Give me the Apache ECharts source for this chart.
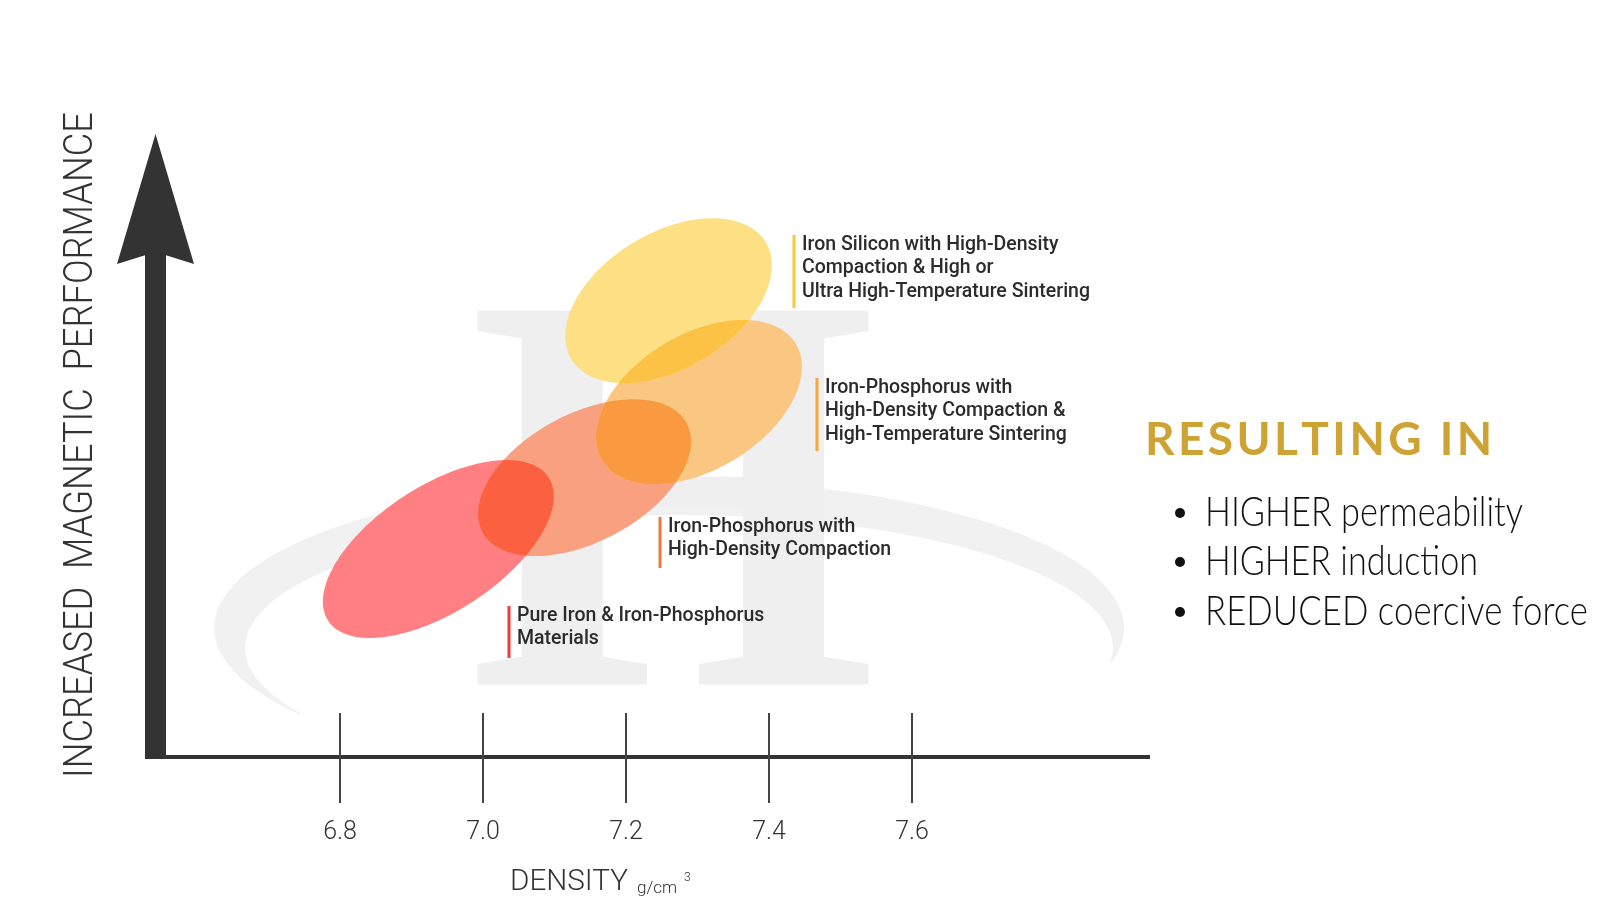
<!DOCTYPE html>
<html>
<head>
<meta charset="utf-8">
<title>Density vs magnetic performance</title>
<script src="https://cdn.jsdelivr.net/npm/echarts/dist/echarts.min.js"></script>
<style>
  html, body { margin: 0; padding: 0; background: #fff; }
  #chart { width: 1600px; height: 900px; }
</style>
</head>
<body>
<div id="chart"></div>
<script>
// material groups, ordered from lowest to highest performance
const groups = [
  'Pure Iron & Iron-Phosphorus Materials',
  'Iron-Phosphorus with High-Density Compaction',
  'Iron-Phosphorus with High-Density Compaction & High-Temperature Sintering',
  'Iron Silicon with High-Density Compaction & High or Ultra High-Temperature Sintering'
];
// density range (g/cm3) covered by each group
const densityMin = [6.776, 6.993, 7.158, 7.115];
const densityMax = [7.099, 7.291, 7.446, 7.404];
// relative magnetic performance range (arbitrary units)
const perfMin = [1.92, 3.24, 4.40, 6.03];
const perfMax = [4.79, 5.77, 7.05, 8.69];
// tilt of each region, degrees
const tilt = [33, 28, 31, 31];
const densityTicks = [6.8, 7.0, 7.2, 7.4, 7.6];

const labelLines = [
  ['Pure Iron & Iron-Phosphorus', 'Materials'],
  ['Iron-Phosphorus with', 'High-Density Compaction'],
  ['Iron-Phosphorus with', 'High-Density Compaction &', 'High-Temperature Sintering'],
  ['Iron Silicon with High-Density', 'Compaction & High or', 'Ultra High-Temperature Sintering']
];
const results = ['HIGHER permeability', 'HIGHER induction', 'REDUCED coercive force'];

const fillColors = ['#ff7f82', '#f8a07f', '#fac783', '#fde083'];
// colour where a region overlaps the one before it
const overlapColors = [null, '#fb6140', '#f99a40', '#fcc245'];
const barColors = ['#ef3b3b', '#f27840', '#f5a73a', '#f7c83c'];

const chart = echarts.init(document.getElementById('chart'));

// text measuring so the odd display fonts can be squeezed to the right width
const mctx = document.createElement('canvas').getContext('2d');
function textWidth(str, font) {
  mctx.font = font;
  return mctx.measureText(str).width;
}

function ellipsePoints(cx, cy, a, b, t) {
  const pts = [];
  for (let i = 0; i < 144; i++) {
    const u = i / 144 * Math.PI * 2;
    const ex = a * Math.cos(u), ey = b * Math.sin(u);
    pts.push([cx + ex * Math.cos(t) + ey * Math.sin(t), cy - ex * Math.sin(t) + ey * Math.cos(t)]);
  }
  return pts;
}

// outline of region k in pixels, from its data ranges
function regionOutline(k, api) {
  const x0 = densityMin[k], x1 = densityMax[k], y0 = perfMin[k], y1 = perfMax[k];
  const t = tilt[k] * Math.PI / 180;
  const c = api.coord([(x0 + x1) / 2, (y0 + y1) / 2]);
  const s = api.size([x1 - x0, y1 - y0]);
  const W = s[0] / 2, H = s[1] / 2;
  // semi-axes of a tilted ellipse with this bounding box
  const sum = W * W + H * H;
  const diff = (W * W - H * H) / Math.cos(2 * t);
  const a = Math.sqrt((sum + diff) / 2);
  const b = Math.sqrt(Math.max((sum - diff) / 2, 1));
  return ellipsePoints(c[0], c[1], a, b, t);
}

// Sutherland-Hodgman, clip polygon is convex
function clipPolygon(subject, clip) {
  let area = 0;
  for (let i = 0; i < clip.length; i++) {
    const p = clip[i], q = clip[(i + 1) % clip.length];
    area += p[0] * q[1] - q[0] * p[1];
  }
  const sign = area > 0 ? 1 : -1;
  let out = subject;
  for (let i = 0; i < clip.length && out.length; i++) {
    const A = clip[i], B = clip[(i + 1) % clip.length];
    const ex = B[0] - A[0], ey = B[1] - A[1];
    const inside = function (p) { return sign * (ex * (p[1] - A[1]) - ey * (p[0] - A[0])) >= 0; };
    const cut = function (P, Q) {
      const dx = Q[0] - P[0], dy = Q[1] - P[1];
      const tt = ((A[0] - P[0]) * ey - (A[1] - P[1]) * ex) / (dx * ey - dy * ex);
      return [P[0] + tt * dx, P[1] + tt * dy];
    };
    const inp = out;
    out = [];
    for (let k = 0; k < inp.length; k++) {
      const P = inp[k], Q = inp[(k + 1) % inp.length];
      const pin = inside(P), qin = inside(Q);
      if (pin) {
        out.push(P);
        if (!qin) out.push(cut(P, Q));
      } else if (qin) {
        out.push(cut(P, Q));
      }
    }
  }
  return out;
}

function renderRegion(params, api) {
  const i = params.dataIndex;
  const own = regionOutline(i, api);
  const children = [{ type: 'polygon', shape: { points: own }, style: { fill: fillColors[i] } }];
  if (i > 0) {
    const both = clipPolygon(own, regionOutline(i - 1, api));
    if (both.length > 2) {
      children.push({ type: 'polygon', shape: { points: both }, style: { fill: overlapColors[i] } });
    }
  }
  return { type: 'group', children: children };
}

const graphics = [];

// watermark logo
const ringOuter = ellipsePoints(669, 628, 455, 148, 0);
const ringInner = ellipsePoints(679, 648, 434, 133, 0);
graphics.push({ type: 'polygon', z: -10, silent: true, shape: { points: ringOuter }, style: { fill: '#f1f1f1' } });
graphics.push({ type: 'polygon', z: -9, silent: true, shape: { points: ringInner }, style: { fill: '#ffffff' } });
graphics.push({ type: 'rect', z: -9, silent: true, shape: { x: 160, y: 714, width: 1000, height: 120 }, style: { fill: '#ffffff' } });
graphics.push({
  type: 'text', z: -8, silent: true, x: 673, y: 537, scaleX: 0.92,
  style: { text: 'H', font: 'bold 571px "Liberation Serif"', fill: '#efefef', align: 'center', verticalAlign: 'middle' }
});

// y axis title
const yFont = '300 40px Roboto';
const yTitle = 'INCREASED  MAGNETIC  PERFORMANCE';
graphics.push({
  type: 'text', x: 82, y: 445, rotation: Math.PI / 2,
  scaleX: 666 / textWidth(yTitle, yFont),
  style: { text: yTitle, font: yFont, fill: '#333', align: 'center', verticalAlign: 'middle' }
});

// x axis title
const dFont = '300 29px Roboto';
graphics.push({
  type: 'text', x: 510, y: 883, scaleX: 118 / textWidth('DENSITY', dFont),
  style: { text: 'DENSITY', font: dFont, fill: '#333', verticalAlign: 'middle' }
});
graphics.push({ type: 'text', x: 637, y: 889, style: { text: 'g/cm', font: '300 17px Roboto', fill: '#333', verticalAlign: 'middle' } });
graphics.push({ type: 'text', x: 684, y: 878, style: { text: '3', font: '300 12px Roboto', fill: '#333', verticalAlign: 'middle' } });

// annotations next to each region
const annoPos = [
  { x: 509, y: 606, h: 52 },
  { x: 660, y: 517, h: 51 },
  { x: 817, y: 378, h: 73 },
  { x: 794, y: 235, h: 73 }
];
labelLines.forEach(function (lines, i) {
  const p = annoPos[i];
  graphics.push({ type: 'rect', shape: { x: p.x - 1.5, y: p.y, width: 3, height: p.h }, style: { fill: barColors[i] } });
  lines.forEach(function (line, j) {
    graphics.push({
      type: 'text', x: p.x + 8, y: p.y + 10 + j * 23.5,
      style: { text: line, font: '500 19.5px Roboto', fill: '#2b2b2b', verticalAlign: 'middle' }
    });
  });
});

// right panel heading, letter spaced
const hFont = 'bold 46px Lato';
const heading = 'RESULTING IN';
const natural = textWidth(heading, hFont);
const gap = (343 - natural) / (heading.length - 1);
let hx = 1145;
for (const ch of heading) {
  graphics.push({ type: 'text', x: hx, y: 440, style: { text: ch, font: hFont, fill: '#cda434', verticalAlign: 'middle' } });
  hx += textWidth(ch, hFont) + gap;
}

// bullet list
const bFont = '300 42px Lato';
const bWidths = [318, 273, 383];
const bY = [512, 561, 611];
results.forEach(function (txt, i) {
  graphics.push({ type: 'circle', shape: { cx: 1180, cy: bY[i] + 1, r: 5 }, style: { fill: '#111' } });
  graphics.push({
    type: 'text', x: 1205, y: bY[i], scaleX: bWidths[i] / textWidth(txt, bFont),
    style: { text: txt, font: bFont, fill: '#111', verticalAlign: 'middle' }
  });
});

const xMin = 6.8 - 195 / 715;
const xMax = 6.8 + 810 / 715;
const tickStyle = { color: '#444', width: 2 };

chart.setOption({
  backgroundColor: '#ffffff',
  animation: false,
  grid: { left: 145, right: 450, top: 199, bottom: 143 },
  xAxis: [
    {
      type: 'value', min: xMin, max: xMax, position: 'bottom',
      axisLine: { show: true, onZero: false, lineStyle: { color: '#333', width: 4, cap: 'butt' } },
      axisTick: { show: true, inside: true, length: 44, customValues: densityTicks, lineStyle: tickStyle },
      axisLabel: { show: false },
      splitLine: { show: false }
    },
    {
      type: 'value', min: xMin, max: xMax, position: 'bottom',
      axisLine: { show: false, onZero: false },
      axisTick: { show: true, inside: false, length: 46, customValues: densityTicks, lineStyle: tickStyle },
      axisLabel: {
        show: true, customValues: densityTicks, margin: 63,
        formatter: function (v) { return v.toFixed(1); },
        fontFamily: 'Roboto', fontWeight: 300, fontSize: 25, color: '#333'
      },
      splitLine: { show: false }
    }
  ],
  yAxis: {
    type: 'value', min: 0, max: 9, offset: -10.5,
    axisLine: {
      show: true, onZero: false,
      symbol: ['none', 'path://M38.5,0 L77,130 L38.5,118 L0,130 Z'],
      symbolSize: [77, 130],
      lineStyle: { color: '#333', width: 21, cap: 'butt' }
    },
    axisTick: { show: false },
    axisLabel: { show: false },
    splitLine: { show: false }
  },
  graphic: { elements: graphics },
  series: [{
    type: 'custom',
    name: 'Material regions',
    xAxisIndex: 0,
    yAxisIndex: 0,
    clip: false,
    z: 2,
    encode: { x: [0, 1], y: [2, 3] },
    data: groups.map(function (g, i) {
      return { name: g, value: [densityMin[i], densityMax[i], perfMin[i], perfMax[i], tilt[i]] };
    }),
    renderItem: renderRegion
  }]
});
</script>
</body>
</html>
